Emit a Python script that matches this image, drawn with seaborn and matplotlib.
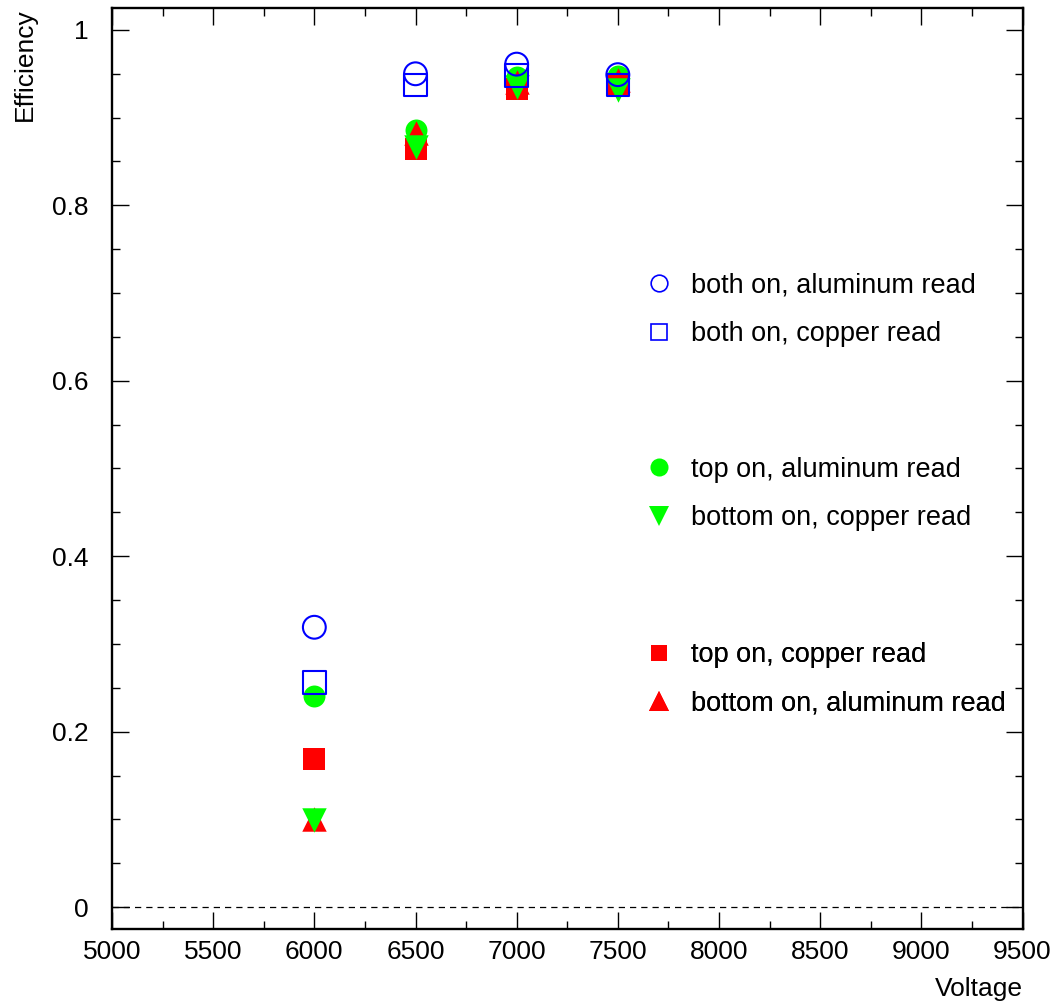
import matplotlib
matplotlib.use("Agg")
import matplotlib.pyplot as plt
import seaborn as sns
import pandas as pd
from matplotlib.lines import Line2D
from matplotlib.ticker import MultipleLocator

voltage = [6000, 6500, 7000, 7500]
both_al = [0.319, 0.950, 0.961, 0.949]
both_cu = [0.256, 0.937, 0.948, 0.937]
top_al = [0.241, 0.886, 0.946, 0.948]
bottom_cu = [0.099, 0.866, 0.935, 0.931]
top_cu = [0.169, 0.864, 0.933, 0.937]
bottom_al = [0.100, 0.883, 0.941, 0.943]

labels = ["both on, aluminum read", "both on, copper read",
          "top on, aluminum read", "bottom on, copper read",
          "top on, copper read", "bottom on, aluminum read"]

sns.set_theme(style="white")
plt.rcParams['font.family'] = ['Liberation Sans', 'DejaVu Sans']
plt.rcParams['text.color'] = 'black'
plt.rcParams['axes.labelcolor'] = 'black'

BLUE = (0, 0, 1)
GREEN = (0, 1, 0)
RED = (1, 0, 0)
FS = 19

fig = plt.figure(figsize=(10.58, 10.06), dpi=100)
ax = fig.add_axes([112/1058, 1-929/1006, (1022.5-112)/1058, (929-8)/1006])

# (values, label, marker, face, edge, size)
series = [
    (top_al, labels[2], 'o', GREEN, GREEN, 250),
    (bottom_al, labels[5], '^', RED, RED, 310),
    (top_cu, labels[4], 's', RED, RED, 260),
    (bottom_cu, labels[3], 'v', GREEN, GREEN, 310),
    (both_cu, labels[1], 's', 'none', BLUE, 260),
    (both_al, labels[0], 'o', 'none', BLUE, 270),
]
for vals, lab, mk, fc, ec, sz in series:
    df = pd.DataFrame({"Voltage": voltage, "Efficiency": vals})
    sns.scatterplot(data=df, x="Voltage", y="Efficiency", ax=ax, marker=mk,
                    s=sz, facecolor=fc, edgecolor=ec,
                    linewidth=1.5 if fc == 'none' else 0, legend=False,
                    zorder=3)

ax.axhline(0, color='black', lw=0.9, ls=(0, (5, 4)), zorder=1)

ax.set_xlim(5000, 9500)
ax.set_ylim(-0.025, 1.025)
ax.xaxis.set_major_locator(MultipleLocator(500))
ax.xaxis.set_minor_locator(MultipleLocator(250))
ax.yaxis.set_major_locator(MultipleLocator(0.2))
ax.yaxis.set_minor_locator(MultipleLocator(0.05))
ax.set_yticks([0, 0.2, 0.4, 0.6, 0.8, 1.0])
ax.set_yticklabels(["0", "0.2", "0.4", "0.6", "0.8", "1"])

ax.tick_params(which='both', direction='in', top=True, right=True,
               left=True, bottom=True, labelsize=FS, colors='black', width=1)
ax.tick_params(which='major', length=12)
ax.tick_params(which='minor', length=6)
ax.tick_params(axis='y', which='major', pad=17)
ax.tick_params(axis='x', which='major', pad=8)
for sp in ax.spines.values():
    sp.set_color('black')
    sp.set_linewidth(1.7)

ax.set_xlabel("Voltage", fontsize=FS, loc='right', color='black')
ax.set_ylabel("Efficiency", fontsize=FS, loc='top', color='black')
ax.xaxis.set_label_coords(1.0, -0.052)
ax.yaxis.set_label_coords(-0.082, 1.0)

def mk_handle(marker, fc, ec, ms):
    return Line2D([], [], ls='none', marker=marker, markersize=ms,
                  markerfacecolor=fc, markeredgecolor=ec,
                  markeredgewidth=1.2 if fc == 'none' else 0)

groups = [
    ([mk_handle('o', 'none', BLUE, 12), mk_handle('s', 'none', BLUE, 12)],
     [labels[0], labels[1]], 1 - 310/1006),
    ([mk_handle('o', GREEN, GREEN, 13), mk_handle('v', GREEN, GREEN, 14)],
     [labels[2], labels[3]], 1 - 494/1006),
    ([mk_handle('s', RED, RED, 12), mk_handle('^', RED, RED, 14)],
     [labels[4], labels[5]], 1 - 679.5/1006),
]
for handles, labs, yc in groups:
    leg = ax.legend(handles, labs, loc='center left',
                    bbox_to_anchor=(645/1058, yc), bbox_transform=fig.transFigure,
                    frameon=False, fontsize=19.5, handlelength=1.0,
                    handletextpad=0.70, labelspacing=0.82, borderpad=0,
                    borderaxespad=0, labelcolor='black')
    ax.add_artist(leg)

fig.savefig("out.png", dpi=100, facecolor='white')
